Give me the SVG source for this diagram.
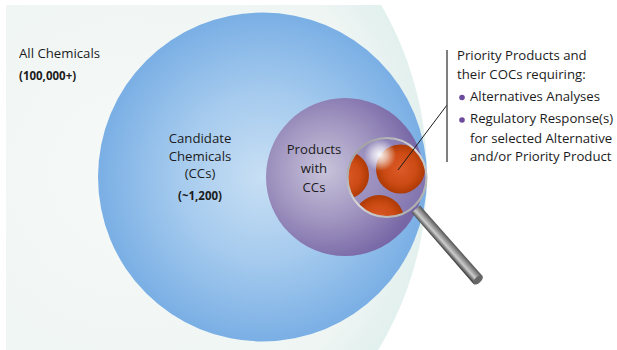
<svg xmlns="http://www.w3.org/2000/svg" width="617" height="350" viewBox="0 0 617 350">
<style>
text{font-family:"Open Sans","Noto Sans","Liberation Sans",sans-serif;font-size:13.2px;fill:#1c1c1c}
.b{font-size:11.5px;font-weight:700}
.m{text-anchor:middle}
.bullet{fill:#6b4c9a}
</style>
<defs>
<radialGradient id="gOuter" gradientUnits="userSpaceOnUse" cx="130" cy="175" r="300"><stop offset="0" stop-color="#f6f9f8"/><stop offset=".85" stop-color="#eef5f3"/><stop offset="1" stop-color="#e2f0ee"/></radialGradient>
<radialGradient id="gBlue" gradientUnits="userSpaceOnUse" cx="262.5" cy="177" r="164.5"><stop offset="0" stop-color="#c8dff4"/><stop offset=".5" stop-color="#a6cbee"/><stop offset="1" stop-color="#7aafe5"/></radialGradient>
<radialGradient id="gPurple" gradientUnits="userSpaceOnUse" cx="325" cy="170" r="95"><stop offset="0" stop-color="#c8c3da"/><stop offset=".5" stop-color="#a398c2"/><stop offset="1" stop-color="#7767a6"/></radialGradient>
<radialGradient id="gLens" gradientUnits="userSpaceOnUse" cx="350" cy="175" r="80"><stop offset="0" stop-color="#a99ec6"/><stop offset="1" stop-color="#7f72ae"/></radialGradient>
<radialGradient id="gRed" cx=".5" cy=".5" r=".5"><stop offset="0" stop-color="#dc5a28"/><stop offset=".65" stop-color="#cc4a14"/><stop offset="1" stop-color="#ae3a04"/></radialGradient>
<radialGradient id="gGlare"><stop offset="0" stop-color="#fff" stop-opacity=".95"/><stop offset=".45" stop-color="#fff" stop-opacity=".6"/><stop offset="1" stop-color="#fff" stop-opacity="0"/></radialGradient>
<linearGradient id="gRing" x1="0" y1="0" x2="1" y2="1"><stop offset="0" stop-color="#8f8f8f"/><stop offset=".5" stop-color="#d8d8d8"/><stop offset="1" stop-color="#a0a0a0"/></linearGradient>
<linearGradient id="gHandle" gradientUnits="userSpaceOnUse" x1="411.5" y1="213" x2="420.5" y2="205"><stop offset="0" stop-color="#444"/><stop offset=".35" stop-color="#ccc"/><stop offset=".7" stop-color="#888"/><stop offset="1" stop-color="#444"/></linearGradient>
<clipPath id="lens"><circle cx="387" cy="177.5" r="39"/></clipPath>
<clipPath id="outerClip"><rect x="6" y="5" width="500" height="345"/></clipPath>
</defs>
<rect width="617" height="350" fill="#fff"/>
<g id="all-chemicals">
<circle cx="89" cy="175" r="338" fill="url(#gOuter)" clip-path="url(#outerClip)"/>
<text x="19" y="58">All Chemicals</text>
<text class="b" x="19" y="80">(100,000+)</text>
</g>
<g id="candidate-chemicals">
<circle cx="262.5" cy="177" r="164.5" fill="url(#gBlue)"/>
<text class="m" x="200" y="143">Candidate</text>
<text class="m" x="200" y="161">Chemicals</text>
<text class="m" x="200" y="178">(CCs)</text>
<text class="b m" x="200" y="200">(~1,200)</text>
</g>
<g id="products">
<circle cx="345" cy="177" r="79" fill="url(#gPurple)"/>
<text class="m" x="314" y="154">Products</text>
<text class="m" x="314" y="173">with</text>
<text class="m" x="314" y="192">CCs</text>
</g>
<g id="magnifier">
<path d="M411.5 212.5L420 205.5L482.5 276L473.5 284Z" fill="url(#gHandle)"/>
<ellipse cx="478" cy="280" rx="6" ry="3" transform="rotate(-42 478 280)" fill="#666"/>
<circle cx="387" cy="177.5" r="39" fill="url(#gLens)"/>
<g clip-path="url(#lens)">
<circle cx="400.5" cy="169" r="24.5" fill="url(#gRed)"/>
<circle cx="345" cy="175" r="24" fill="url(#gRed)"/>
<circle cx="379" cy="220" r="25" fill="url(#gRed)"/>
<circle cx="380" cy="155" r="16" fill="url(#gGlare)"/>
</g>
<circle cx="387" cy="177.5" r="39.5" fill="none" stroke="url(#gRing)" stroke-width="2.2"/>
</g>
<g id="connectors">
<line x1="447" y1="105" x2="398" y2="170" stroke="#1c1c1c" stroke-width="1"/>
<line x1="447" y1="50" x2="447" y2="162" stroke="#555" stroke-width="1.5"/>
</g>
<g id="priority">
<text x="457" y="60">Priority Products and</text>
<text x="457" y="79">their COCs requiring:</text>
<circle class="bullet" cx="462" cy="97.5" r="2.8"/>
<text x="470" y="101">Alternatives Analyses</text>
<circle class="bullet" cx="462" cy="120" r="2.8"/>
<text x="470" y="123">Regulatory Response(s)</text>
<text x="470" y="143">for selected Alternative</text>
<text x="470" y="161">and/or Priority Product</text>
</g>
</svg>
